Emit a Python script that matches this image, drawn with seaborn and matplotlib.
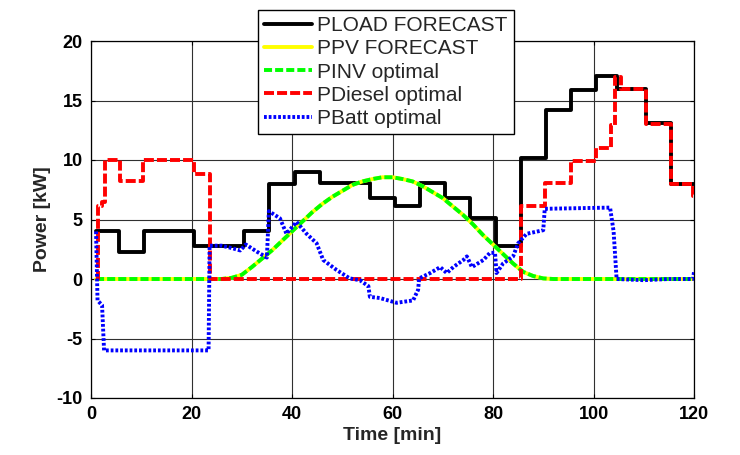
import matplotlib
matplotlib.use("Agg")
import matplotlib.pyplot as plt
import seaborn as sns
import pandas as pd

# ---- data ----
load_t = [1, 5.5, 10.5, 20.5, 30.5, 35.5, 40.5, 45.5, 55.5, 60.5, 65.5, 70.5,
          75.5, 80.5, 85.5, 90.5, 95.5, 100.5, 104.6, 110.5, 115.5, 120]
load_kw = [4.0, 2.3, 4.0, 2.8, 4.0, 8.0, 9.0, 8.1, 6.8, 6.1, 8.1, 6.8,
           5.1, 2.8, 10.2, 14.2, 15.9, 17.1, 16.0, 13.1, 8.0, 8.0]

pv_t = [1, 26, 28, 30, 32, 34, 36, 38, 40, 42, 44, 46, 48, 50, 52, 54, 56, 58,
        60, 62, 64, 66, 68, 70, 72, 74, 76, 78, 80, 82, 84, 86, 88, 90, 92, 120]
pv_kw = [0, 0, 0.1, 0.35, 1.0, 1.7, 2.4, 3.2, 4.0, 4.8, 5.6, 6.3, 6.9, 7.4,
         7.9, 8.2, 8.4, 8.55, 8.55, 8.4, 8.2, 7.8, 7.3, 6.8, 6.1, 5.4, 4.6,
         3.7, 2.9, 2.1, 1.3, 0.6, 0.25, 0.05, 0, 0]
inv_kw = [0, 0, 0.1, 0.35, 1.0, 1.7, 2.4, 3.2, 4.0, 4.8, 5.6, 6.3, 6.9, 7.4,
          7.9, 8.2, 8.4, 8.55, 8.55, 8.4, 8.2, 7.8, 7.3, 6.8, 6.1, 5.4, 4.6,
          3.7, 2.9, 2.1, 1.3, 0.6, 0.25, 0.05, 0, 0]

dsl_t = [1, 1.4, 2.2, 2.8, 5.8, 10.4, 20.5, 23.7, 85.5, 90.4, 95.5, 100.5,
         103.5, 104.3, 105.4, 110.5, 115.5, 119.8, 120]
dsl_kw = [0, 6.1, 6.5, 10.0, 8.2, 10.0, 8.8, 0.0, 6.1, 8.1, 9.9, 11.0,
          12.9, 17.0, 16.0, 13.0, 8.0, 7.0, 7.0]

bat_t = [1.0, 1.3, 2.2, 2.6, 23.4, 23.6, 26, 28, 29.7, 30.8, 33, 35.0, 35.4,
         36.5, 37.6, 38.9, 40.9, 42.9, 44.9, 46.2, 48.9, 51.5, 53.5, 55.2,
         55.5, 57.5, 60.8, 64.1, 65.1, 65.3, 67.5, 69.5, 70.8, 72.1, 74.1,
         74.8, 75.8, 78.1, 79.4, 80.4, 80.7, 82.0, 84.0, 85.0, 86.7, 90.0,
         90.3, 103.3, 104.0, 104.6, 110, 115, 119.8, 120]
bat_kw = [4.0, -1.8, -2.2, -6.0, -6.0, 2.8, 2.8, 2.6, 2.4, 2.9, 2.3, 1.8, 5.7,
          5.4, 5.1, 3.8, 4.8, 3.8, 3.0, 1.6, 0.75, 0.05, -0.1, -0.6,
          -1.5, -1.6, -2.0, -1.8, -0.9, 0.05, 0.5, 1.0, 0.5, 1.0, 1.6,
          1.9, 1.0, 1.6, 2.2, 2.2, 0.5, 1.3, 1.9, 3.0, 3.8, 4.1,
          5.9, 6.0, 4.0, 0.0, -0.1, 0.0, 0.0, 0.6]

labels = ["PLOAD FORECAST", "PPV FORECAST", "PINV optimal", "PDiesel optimal", "PBatt optimal"]
x_ticks = [0, 20, 40, 60, 80, 100, 120]
y_ticks = [-10, -5, 0, 5, 10, 15, 20]

# ---- style ----
sns.set_style("ticks")
plt.rcParams["font.family"] = ["Liberation Sans", "DejaVu Sans"]
plt.rcParams["lines.scale_dashes"] = False
plt.rcParams["axes.unicode_minus"] = False

fig = plt.figure(figsize=(7.4, 4.55), dpi=100)
ax = fig.add_axes([91 / 740, 1 - 398 / 455, (694 - 91) / 740, (398 - 41) / 455])

lw = 2.8
common = dict(ax=ax, estimator=None, sort=False, linewidth=lw)

sns.lineplot(x=load_t, y=load_kw, color="black", drawstyle="steps-post",
             label=labels[0], zorder=3, **common)
sns.lineplot(x=pv_t, y=pv_kw, color="#ffff00", label=labels[1], zorder=4, **common)
sns.lineplot(x=pv_t, y=inv_kw, color="#00ff00", linestyle=(0, (5.8, 2.2)),
             label=labels[2], zorder=5, **common)
sns.lineplot(x=dsl_t, y=dsl_kw, color="#ff0000", drawstyle="steps-post",
             linestyle=(0, (7.2, 2.2)), label=labels[3], zorder=6, **common)
sns.lineplot(x=bat_t, y=bat_kw, color="#0000ff", linestyle=(0, (2.0, 1.4)),
             label=labels[4], zorder=7, **common)

ax.set_xlim(0, 120)
ax.set_ylim(-10, 20)
ax.set_xticks(x_ticks)
ax.set_yticks(y_ticks)
ax.grid(True, color="#303030", linewidth=0.8, linestyle="-")
ax.set_axisbelow(True)
for s in ax.spines.values():
    s.set_visible(True)
    s.set_color("black")
    s.set_linewidth(0.9)
ax.tick_params(direction="in", length=3, width=0.8, top=True, right=True,
               labelsize=13, pad=6, colors="black")
for lab in ax.get_xticklabels() + ax.get_yticklabels():
    lab.set_fontweight("bold")
ax.set_xlabel("Time [min]", fontsize=14, fontweight="bold", labelpad=3)
ax.set_ylabel("Power [kW]", fontsize=14, fontweight="bold", labelpad=4)

leg = ax.legend(loc="upper left", bbox_to_anchor=(258 / 740, 1 - 10 / 455),
                bbox_transform=fig.transFigure, borderaxespad=0, fontsize=15,
                handlelength=2.3, handletextpad=0.25, labelspacing=0.2,
                borderpad=0.3, frameon=True, fancybox=False, framealpha=1)
leg.get_frame().set_edgecolor("black")
leg.get_frame().set_linewidth(1.0)
leg.set_zorder(10)

fig.savefig("out.png", dpi=100)
